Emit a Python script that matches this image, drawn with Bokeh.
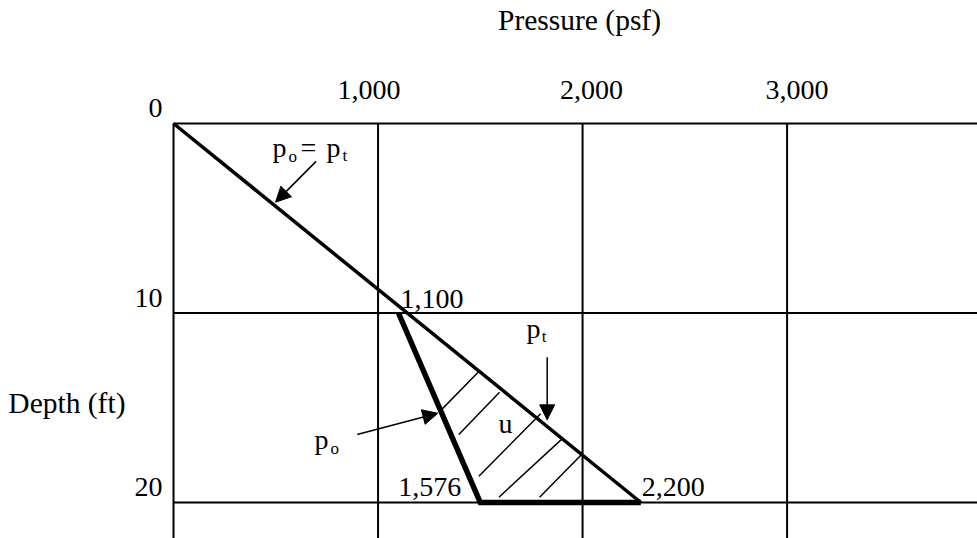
from bokeh.plotting import figure
from bokeh.models import Range1d, Arrow, NormalHead, ColumnDataSource
from bokeh.core.properties import value
from bokeh.embed import file_html
from bokeh.resources import INLINE

# ---------------- data ----------------
x_ticks = [1000, 2000, 3000]
x_tick_labels = ["1,000", "2,000", "3,000"]
y_ticks = [0, 10, 20]
y_tick_labels = ["0", "10", "20"]
x_title = "Pressure (psf)"
y_title = "Depth (ft)"

# total pressure p_t (= p_o above water table)
pt_depth = [0, 20]
pt_pressure = [0, 2285]
# effective pressure p_o below water table
po_depth = [10, 20, 20]
po_pressure = [1100, 1500, 2285]

# hatch marks (pore pressure u region)
hatch_x0 = [1314, 1395, 1493, 1591, 1790]
hatch_y0 = [15.06, 16.41, 18.61, 19.72, 19.72]
hatch_x1 = [1493, 1594, 1795, 1896, 1994]
hatch_y1 = [13.09, 14.18, 15.32, 16.68, 17.48]

# value annotations
value_labels = ["1,100", "1,576", "2,200"]
value_x = [1100, 1500, 2285]
value_y = [10, 20, 20]

# arrows (start -> tip)
arrow_x0 = [697, 1827, 898]
arrow_y0 = [2.0, 12.33, 16.41]
arrow_x1 = [499, 1827, 1292]
arrow_y1 = [4.15, 15.64, 15.29]

# curve names: main letters and subscripts
main_text = ["p", "=", "p", "p", "p", "u"]
main_x = [484, 621, 748, 1726, 689, 1589]
main_y = [1.79, 1.79, 1.79, 11.35, 17.2, 16.36]
sub_text = ["o", "t", "t", "o"]
sub_x = [562, 826, 1800, 768]
sub_y = [1.95, 1.90, 11.45, 17.36]

# plotting extent (chart area runs off the right and bottom edges)
X_LO, X_HI = -846, 3931
Y_TOP, Y_BOT = -6.49, 21.9

FONT = value("Liberation Serif")
BIG = value("28px")
TITLE = value("29.5px")
SMALL = value("17px")
DY = -10      # baseline correction for big text (px)
DY_S = -4     # baseline correction for subscripts (px)
XTICK_DX = [-9, 9, 10]   # tick-label nudges as drawn in the original

p = figure(width=977, height=538, output_backend="svg", toolbar_location=None,
           x_range=Range1d(X_LO, X_HI), y_range=Range1d(Y_BOT, Y_TOP),
           x_axis_location=None, y_axis_location=None,
           min_border=0, min_border_left=0, min_border_right=0,
           min_border_top=0, min_border_bottom=0)
p.outline_line_color = None
p.background_fill_color = "white"
p.border_fill_color = "white"
p.xgrid.visible = False
p.ygrid.visible = False

# frame lines (top and left) and grid
grid_kw = dict(line_color="black", line_width=2)
p.segment([0], [0], [X_HI], [0], **grid_kw)
p.segment([0], [0], [0], [Y_BOT], **grid_kw)
p.segment(x_ticks, [0] * len(x_ticks), x_ticks, [Y_BOT] * len(x_ticks), **grid_kw)
p.segment([0] * 2, y_ticks[1:], [X_HI] * 2, y_ticks[1:], **grid_kw)

txt = dict(text_baseline="alphabetic", text_font=FONT, text_color="black")

# tick labels and titles
for xt, lab, dx in zip(x_ticks, x_tick_labels, XTICK_DX):
    p.text([xt], [0], text=[lab], x_offset=dx, y_offset=-23 + DY,
           text_align="center", text_font_size=BIG, **txt)
p.text([0] * len(y_ticks), y_ticks, text=y_tick_labels, x_offset=-11, y_offset=-5 + DY,
       text_align="right", text_font_size=BIG, **txt)
p.text([1985], [-4.93], text=[x_title], y_offset=DY, text_align="center",
       text_font_size=TITLE, **txt)
p.text([-235], [15.3], text=[y_title], y_offset=DY, text_align="right",
       text_font_size=TITLE, **txt)

# curves
p.line(pt_pressure, pt_depth, line_color="black", line_width=3.5)
p.line(po_pressure, po_depth, line_color="black", line_width=5.5, line_join="miter")
p.segment(hatch_x0, hatch_y0, hatch_x1, hatch_y1, line_color="black", line_width=1.5)

# arrows
asrc = ColumnDataSource(dict(x0=arrow_x0, y0=arrow_y0, x1=arrow_x1, y1=arrow_y1))
p.add_layout(Arrow(x_start="x0", y_start="y0", x_end="x1", y_end="y1", source=asrc,
                   line_width=1.5, line_color="black",
                   end=NormalHead(size=15, fill_color="black", line_color="black",
                                  line_width=1)))

# value labels
p.text([value_x[0]], [value_y[0]], text=[value_labels[0]], x_offset=2, y_offset=-4 + DY,
       text_align="left", text_font_size=BIG, **txt)
p.text([value_x[1]], [value_y[1]], text=[value_labels[1]], x_offset=-19, y_offset=-5 + DY,
       text_align="right", text_font_size=BIG, **txt)
p.text([value_x[2]], [value_y[2]], text=[value_labels[2]], x_offset=1, y_offset=-5 + DY,
       text_align="left", text_font_size=BIG, **txt)

# curve names
p.text(main_x, main_y, text=main_text, y_offset=DY, text_align="left",
       text_font_size=BIG, **txt)
p.text(sub_x, sub_y, text=sub_text, y_offset=DY_S, text_align="left",
       text_font_size=SMALL, **txt)

open("out.html", "w").write(file_html(p, INLINE))
